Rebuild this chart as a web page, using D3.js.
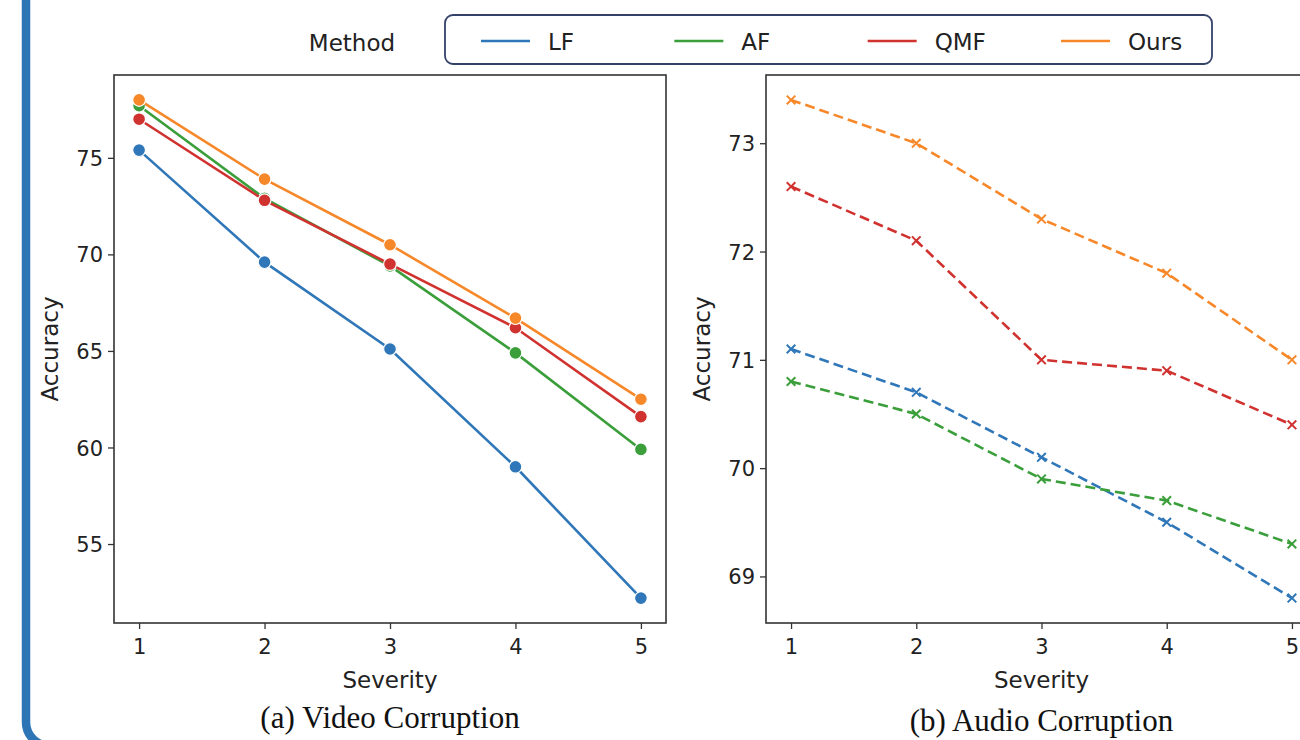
<!DOCTYPE html>
<html lang="en">
<head>
    <meta charset="UTF-8">
    <title>Accuracy vs Severity under Video and Audio Corruption</title>
    <script src="https://d3js.org/d3.v7.min.js"></script>
    <style>
        body { margin: 0; background: #fff; }
        svg { display: block; }
        .tick text { font-family: "DejaVu Sans", sans-serif; font-size: 21px; fill: #222; }
        .label { font-family: "DejaVu Sans", sans-serif; font-size: 23px; fill: #222; }
        .caption { font-family: "Liberation Serif", "Times New Roman", serif; font-size: 31px; fill: #111; }
    </style>
</head>
<body>
<svg id="chart" width="1300" height="740"></svg>
<script>
    // Data
    const methods = ['LF', 'AF', 'QMF', 'Ours'];
    const colors = ['#2f77b8', '#3a9e3a', '#d0322f', '#f7882a'];
    const severity = [1, 2, 3, 4, 5];

    const videoLF   = [75.4, 69.6, 65.1, 59.0, 52.2];
    const videoAF   = [77.7, 72.9, 69.4, 64.9, 59.9];
    const videoQMF  = [77.0, 72.8, 69.5, 66.2, 61.6];
    const videoOurs = [78.0, 73.9, 70.5, 66.7, 62.5];

    const audioLF   = [71.1, 70.7, 70.1, 69.5, 68.8];
    const audioAF   = [70.8, 70.5, 69.9, 69.7, 69.3];
    const audioQMF  = [72.6, 72.1, 71.0, 70.9, 70.4];
    const audioOurs = [73.4, 73.0, 72.3, 71.8, 71.0];

    const videoTicks = [55, 60, 65, 70, 75];
    const audioTicks = [69, 70, 71, 72, 73];

    const svg = d3.select('#chart');

    // blue side frame (rounded box running off the page)
    svg.append('rect')
        .attr('x', 26).attr('y', -40)
        .attr('width', 1400).attr('height', 786)
        .attr('rx', 24)
        .attr('fill', 'none')
        .attr('stroke', '#2e75b6')
        .attr('stroke-width', 8.5);

    drawPanel({
        series: [videoLF, videoAF, videoQMF, videoOurs],
        ticks: videoTicks,
        left: 114, right: 666, top: 75, bottom: 623,
        marker: 'circle', dashed: false,
        caption: '(a) Video Corruption', captionY: 728
    });

    drawPanel({
        series: [audioLF, audioAF, audioQMF, audioOurs],
        ticks: audioTicks,
        left: 766, right: 1317, top: 75, bottom: 623,
        marker: 'cross', dashed: true,
        caption: '(b) Audio Corruption', captionY: 731
    });

    drawLegend();

    function drawPanel(p) {
        const all = p.series.flat();
        const [lo, hi] = d3.extent(all);
        const pad = (hi - lo) * 0.05;

        const x = d3.scaleLinear().domain([0.8, 5.2]).range([p.left, p.right]);
        const y = d3.scaleLinear().domain([lo - pad, hi + pad]).range([p.bottom, p.top]);

        const g = svg.append('g');

        const xAxis = g.append('g')
            .attr('transform', `translate(0,${p.bottom})`)
            .call(d3.axisBottom(x).tickValues(severity).tickFormat(d3.format('d')).tickSize(6).tickPadding(6));
        const yAxis = g.append('g')
            .attr('transform', `translate(${p.left},0)`)
            .call(d3.axisLeft(y).tickValues(p.ticks).tickFormat(d3.format('d')).tickSize(6).tickPadding(5));

        [xAxis, yAxis].forEach(a => {
            a.select('.domain').remove();
            a.selectAll('.tick line').attr('stroke', '#333').attr('stroke-width', 1.3);
        });
        xAxis.selectAll('.tick text').attr('dy', '0.9em');
        yAxis.selectAll('.tick text').attr('dy', '0.36em');

        // frame
        g.append('rect')
            .attr('x', p.left).attr('y', p.top)
            .attr('width', p.right - p.left).attr('height', p.bottom - p.top)
            .attr('fill', 'none').attr('stroke', '#333').attr('stroke-width', 1.6);

        const line = d3.line()
            .x((d, i) => x(severity[i]))
            .y(d => y(d));

        p.series.forEach((vals, k) => {
            g.append('path')
                .datum(vals)
                .attr('fill', 'none')
                .attr('stroke', colors[k])
                .attr('stroke-width', 2.6)
                .attr('stroke-dasharray', p.dashed ? '10,5' : null)
                .attr('d', line);

            if (p.marker === 'circle') {
                g.selectAll(null).data(vals).enter().append('circle')
                    .attr('cx', (d, i) => x(severity[i]))
                    .attr('cy', d => y(d))
                    .attr('r', 6.4)
                    .attr('fill', colors[k])
                    .attr('stroke', '#fff')
                    .attr('stroke-width', 1.2);
            } else {
                const s = 4.3;
                g.selectAll(null).data(vals).enter().append('path')
                    .attr('transform', (d, i) => `translate(${x(severity[i])},${y(d)})`)
                    .attr('d', `M${-s},${-s}L${s},${s}M${-s},${s}L${s},${-s}`)
                    .attr('stroke', colors[k])
                    .attr('stroke-width', 2)
                    .attr('fill', 'none');
            }
        });

        const cx = (p.left + p.right) / 2;
        g.append('text').attr('class', 'label')
            .attr('x', cx).attr('y', 688)
            .attr('text-anchor', 'middle')
            .text('Severity');

        g.append('text').attr('class', 'label')
            .attr('transform', `translate(${p.left - 56},${(p.top + p.bottom) / 2}) rotate(-90)`)
            .attr('text-anchor', 'middle')
            .text('Accuracy');

        g.append('text').attr('class', 'caption')
            .attr('x', cx).attr('y', p.captionY)
            .attr('text-anchor', 'middle')
            .text(p.caption);
    }

    function drawLegend() {
        const lg = svg.append('g');
        lg.append('text').attr('class', 'label')
            .attr('x', 352).attr('y', 51)
            .attr('text-anchor', 'middle')
            .text('Method');

        lg.append('rect')
            .attr('x', 445).attr('y', 15)
            .attr('width', 767).attr('height', 49)
            .attr('rx', 8)
            .attr('fill', '#fff')
            .attr('stroke', '#34426a')
            .attr('stroke-width', 1.8);

        const pos = d3.scalePoint().domain(methods).range([481, 1061]);
        methods.forEach((m, k) => {
            const x0 = pos(m);
            lg.append('line')
                .attr('x1', x0).attr('x2', x0 + 49)
                .attr('y1', 41).attr('y2', 41)
                .attr('stroke', colors[k]).attr('stroke-width', 2.6);
            lg.append('text').attr('class', 'label')
                .attr('x', x0 + 67).attr('y', 50)
                .text(m);
        });
    }
</script>
</body>
</html>
